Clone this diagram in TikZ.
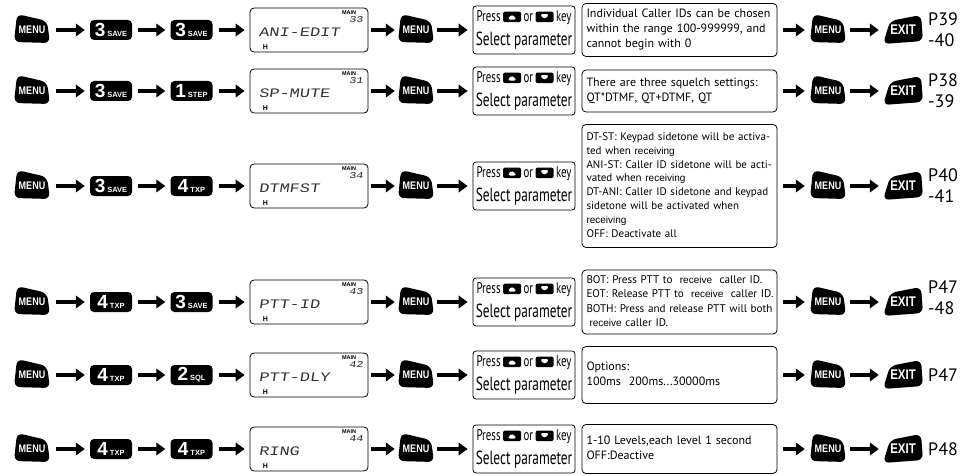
\documentclass[tikz,border=0pt]{standalone}
\usepackage{fontspec}
\setmainfont{PT Sans}
\newfontfamily\condf[FakeStretch=0.7]{PT Sans}
\newfontfamily\keyf{Liberation Sans}
\newfontfamily\keycf[FakeStretch=0.82]{Liberation Sans}
\newfontfamily\lcdf[FakeStretch=1.3,FakeSlant=0.15]{Liberation Mono}
\newfontfamily\arialf{Liberation Sans}
\usetikzlibrary{arrows.meta,calc}

\newcommand\rcv[1]{{\arialf\fontsize{10}{10}\selectfont #1}}
\newcommand\arrowkey[1]{\tikz[baseline=0pt,x=1pt,y=1pt]{\fill[black,rounded corners=2pt] (0,-0.5) rectangle (18,10); \fill[white] #1;}}
\newcommand\upk{\arrowkey{(4,2) -- (14,2) -- (9,7.5) -- cycle}}
\newcommand\dnk{\arrowkey{(4,7.5) -- (14,7.5) -- (9,2) -- cycle}}
\newcommand\lines[1]{\begin{tabular}{@{}l@{}}#1\end{tabular}}

\tikzset{
  bigarrow/.style={line width=4.8pt,-{Triangle[length=9pt,width=12.5pt]},shorten <=6pt,shorten >=5pt},
  keytxt/.style={inner sep=0pt,text=white},
  numk/.style={fill=black,rounded corners=4pt,minimum width=42pt,minimum height=20pt,inner sep=0pt,text=white,font=\keyf\bfseries},
  lcdbox/.style={draw,rounded corners=4pt,minimum width=118pt,minimum height=44pt,line width=0.8pt},
  lcdtxt/.style={inner sep=0pt,font=\lcdf\fontsize{13}{13}\selectfont,text=black!80},
  lcdnum/.style={inner sep=0pt,font=\lcdf\fontsize{9}{9}\selectfont,text=black!85},
  tinyb/.style={inner sep=0pt,font=\keyf\bfseries\fontsize{5.5}{5.5}\selectfont},
  hmark/.style={inner sep=0pt,font=\keyf\bfseries\fontsize{7}{7}\selectfont},
  pressbox/.style={draw,rounded corners=3pt,minimum width=102pt,minimum height=48pt,inner sep=1pt,align=center,font=\condf\fontsize{19}{24}\selectfont,line width=0.8pt},
  infobox/.style={draw,rounded corners=4pt,minimum width=195pt,text width=186pt,inner xsep=4.5pt,inner ysep=3pt,align=left,font=\fontsize{12}{15}\selectfont,line width=0.8pt},
  plabel/.style={anchor=west,inner sep=0pt,align=left,font=\fontsize{18}{21}\selectfont}
}

\newcommand\menukey[3]{%
  \fill[rounded corners=6pt,shift={(#2-18,#3-16)}] (18,3.5) -- (33,7) -- (36,29) -- (0,28) -- (3,0) -- cycle;
  \node[keytxt,minimum width=36pt,minimum height=30pt,font=\keycf\bfseries\fontsize{11}{11}\selectfont] (#1) at (#2,#3) {MENU};}
\newcommand\exitkey[3]{%
  \fill[rounded corners=6pt,shift={(#2-20,#3-15)}] (22,3) -- (38,0) -- (40,26) -- (0,29) -- (7,6) -- cycle;
  \node[keytxt,minimum width=40pt,minimum height=30pt,font=\keycf\bfseries\fontsize{14}{14}\selectfont] (#1) at (#2,#3) {EXIT};}
\newcommand\numkey[5]{\node[numk] (#1) at (#2,#3) {\fontsize{19}{19}\selectfont #4\hspace{2pt}\fontsize{7.5}{7.5}\selectfont #5};}
\newcommand\lcd[5]{%
  \node[lcdbox] (#1) at (#2,#3) {};
  \node[lcdtxt,anchor=west] at ([xshift=9pt,yshift=-2pt]#1.west) {#4};
  \node[tinyb,anchor=north east] at ([xshift=-12pt,yshift=-3pt]#1.north east) {MAIN};
  \node[lcdnum,anchor=north east] at ([xshift=-5pt,yshift=-9pt]#1.north east) {#5};
  \node[hmark,anchor=south west] at ([xshift=13pt,yshift=3pt]#1.south west) {H};}
\newcommand\press[3]{\node[pressbox] (#1) at (#2,#3) {{\fontsize{15.5}{15.5}\selectfont Press\hspace{2.5pt}\upk\hspace{2.5pt}or\hspace{2.5pt}\dnk\hspace{2.5pt}key}\\{Select parameter}};}
\newcommand\rowarrows[1]{%
  \draw[bigarrow] (ma#1) -- (ka#1);
  \draw[bigarrow] (ka#1) -- (kb#1);
  \draw[bigarrow] (kb#1) -- (la#1);
  \draw[bigarrow,shorten <=3pt,shorten >=3pt] (la#1) -- (mb#1);
  \draw[bigarrow,shorten <=3pt] (mb#1) -- (pa#1);
  \draw[bigarrow] (ta#1) -- (mc#1);
  \draw[bigarrow,shorten <=4pt,shorten >=4pt] (mc#1) -- (ea#1);}

\begin{document}
\begin{tikzpicture}[x=1pt,y=-1pt]
\useasboundingbox[fill=white] (0,0) rectangle (966,476);

% Row 1
\menukey{ma1}{32}{30}
\numkey{ka1}{111}{30}{3}{SAVE}
\numkey{kb1}{191.5}{30}{3}{SAVE}
\lcd{la1}{309}{30}{ANI-EDIT}{33}
\menukey{mb1}{416}{30}
\press{pa1}{524}{30}
\node[infobox,minimum height=53pt] (ta1) at (679.5,30) {\lines{Individual Caller IDs can be chosen\\within the range 100-999999, and\\cannot begin with 0}};
\menukey{mc1}{828}{30}
\exitkey{ea1}{903}{30}
\node[plabel] (pg1) at (928,30) {P39\\-40};
\rowarrows{1}

% Row 2
\menukey{ma2}{32}{91}
\numkey{ka2}{111}{91}{3}{SAVE}
\numkey{kb2}{191.5}{91}{1}{STEP}
\lcd{la2}{309}{91}{SP-MUTE}{31}
\menukey{mb2}{416}{91}
\press{pa2}{524}{91}
\node[infobox,minimum height=42pt] (ta2) at (679.5,91) {\lines{There are three squelch settings:\\QT*DTMF, QT+DTMF, QT}};
\menukey{mc2}{828}{91}
\exitkey{ea2}{903}{91}
\node[plabel] (pg2) at (928,91) {P38\\-39};
\rowarrows{2}

% Row 3
\menukey{ma3}{32}{186}
\numkey{ka3}{111}{186}{3}{SAVE}
\numkey{kb3}{191.5}{186}{4}{TXP}
\lcd{la3}{309}{186}{DTMFST}{34}
\menukey{mb3}{416}{186}
\press{pa3}{524}{186}
\node[infobox,minimum height=123pt,font=\fontsize{11}{13.8}\selectfont] (ta3) at (679.5,186) {\lines{DT-ST: Keypad sidetone will be activa-\\ted when \rcv{receiving}\\ANI-ST: Caller ID sidetone will be acti-\\vated when \rcv{receiving}\\DT-ANI: Caller ID sidetone and keypad\\sidetone will be activated when\\\rcv{receiving}\\OFF: Deactivate all}};
\menukey{mc3}{828}{186}
\exitkey{ea3}{903}{186}
\node[plabel] (pg3) at (928,186) {P40\\-41};
\rowarrows{3}

% Row 4
\menukey{ma4}{32}{302}
\numkey{ka4}{111}{302}{4}{TXP}
\numkey{kb4}{191.5}{302}{3}{SAVE}
\lcd{la4}{309}{302}{PTT-ID}{43}
\menukey{mb4}{416}{302}
\press{pa4}{524}{302}
\node[infobox,minimum height=63pt,font=\fontsize{11.1}{14.5}\selectfont] (ta4) at (679.5,302) {\lines{BOT: Press PTT to \ \rcv{receive} \ caller ID.\\EOT: Release PTT to \ \rcv{receive} \ caller ID.\\BOTH: Press and release PTT will both\\\hspace*{3pt}\rcv{receive} caller ID.}};
\menukey{mc4}{828}{302}
\exitkey{ea4}{903}{302}
\node[plabel] (pg4) at (928,298) {P47\\-48};
\rowarrows{4}

% Row 5
\menukey{ma5}{32}{375}
\numkey{ka5}{111}{375}{4}{TXP}
\numkey{kb5}{191.5}{375}{2}{SQL}
\lcd{la5}{309}{375}{PTT-DLY}{42}
\menukey{mb5}{416}{375}
\press{pa5}{524}{375}
\node[infobox,minimum height=57pt] (ta5) at (679.5,375) {\lines{Options:\\100ms\ \ 200ms...30000ms}};
\menukey{mc5}{828}{375}
\exitkey{ea5}{903}{375}
\node[plabel] (pg5) at (928,375) {P47};
\rowarrows{5}

% Row 6
\menukey{ma6}{32}{449}
\numkey{ka6}{111}{449}{4}{TXP}
\numkey{kb6}{191.5}{449}{4}{TXP}
\lcd{la6}{309}{449}{RING}{44}
\menukey{mb6}{416}{449}
\press{pa6}{524}{449}
\node[infobox,minimum height=49pt] (ta6) at (679.5,449) {\lines{1-10 Levels,each level 1 second\\OFF:Deactive}};
\menukey{mc6}{828}{449}
\exitkey{ea6}{903}{449}
\node[plabel] (pg6) at (928,449) {P48};
\rowarrows{6}
\end{tikzpicture}
\end{document}
